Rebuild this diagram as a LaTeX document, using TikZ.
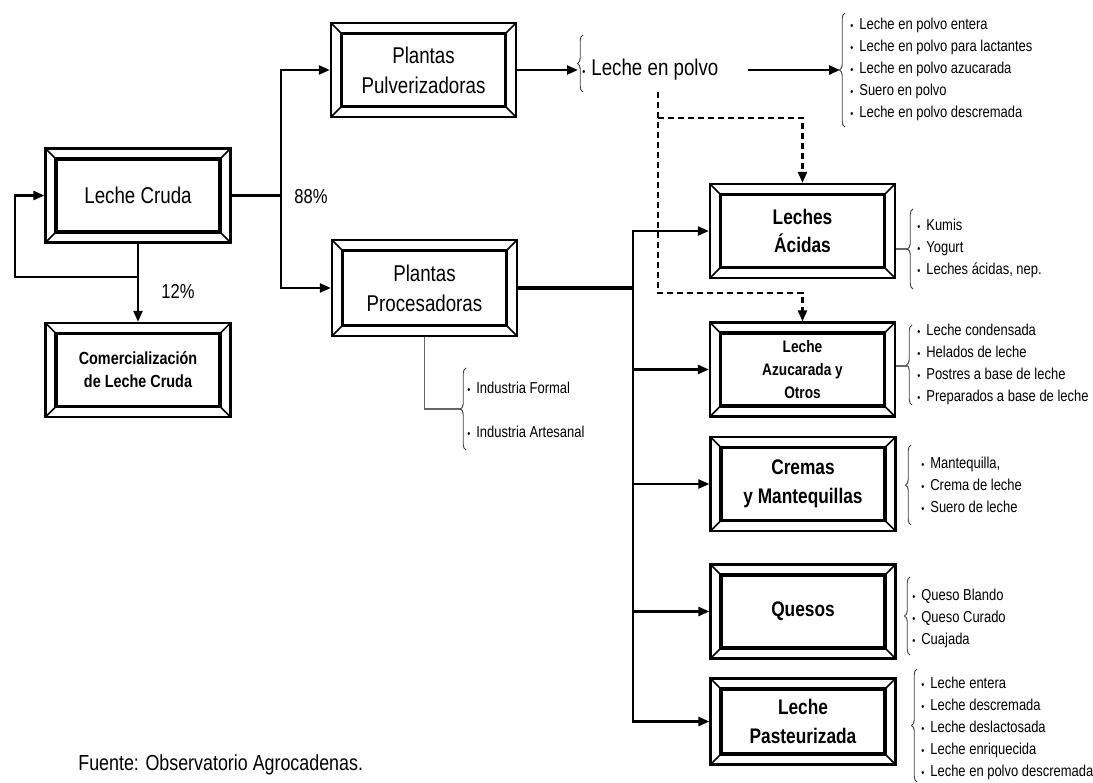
\documentclass[tikz,border=0pt]{standalone}
\usepackage{fontspec}
\setmainfont{Liberation Sans}[FakeStretch=0.82]
\usetikzlibrary{arrows.meta,positioning,decorations.pathreplacing}

\newcommand{\blt}{{\fontsize{6}{6}\selectfont\textbullet}\hspace{0.12cm}}

\begin{document}
\begin{tikzpicture}[
  x=0.02cm, y=-0.02cm,
  every node/.style={align=center},
  framebox/.style={draw, line width=1.3pt, minimum width=3.7cm, minimum height=1.88cm, inner sep=0pt,
    path picture={
      \draw[line width=1.9pt] ([shift={(0.21cm,0.21cm)}]path picture bounding box.south west) rectangle ([shift={(-0.21cm,-0.21cm)}]path picture bounding box.north east);
      \draw[line width=0.9pt] (path picture bounding box.south west) -- ++(0.21cm,0.21cm)
        (path picture bounding box.south east) -- ++(-0.21cm,0.21cm)
        (path picture bounding box.north west) -- ++(0.21cm,-0.21cm)
        (path picture bounding box.north east) -- ++(-0.21cm,-0.21cm);
    }},
  plainlabel/.style={font=\fontsize{13}{17}\selectfont},
  boldlabel/.style={font=\bfseries\fontsize{12}{16.4}\selectfont},
  smalllabel/.style={font=\bfseries\fontsize{10}{13}\selectfont},
  itemlist/.style={anchor=west, inner sep=0pt, align=left, font=\fontsize{9}{12.5}\selectfont},
  arrow/.style={-{Triangle[length=0.22cm,width=0.18cm]}, line width=1.35pt},
  conn/.style={line width=1.35pt},
  dasharrow/.style={arrow, dash pattern=on 0.12cm off 0.08cm},
  curly/.style={decorate, decoration={brace, amplitude=0.11cm}, black!75, line width=0.55pt},
  thinline/.style={black!60, line width=0.6pt}
]

\path[use as bounding box, fill=white] (0,0) rectangle (1093,783);

% --- LEFT: RAW MILK ---
\node[framebox, plainlabel] (cruda) at (138,195.5) {Leche Cruda};
\node[framebox, smalllabel] (comer) at (138,370) {Comercialización\\de Leche Cruda};

\coordinate (back) at (138,277);
\coordinate (loop) at (15,277);
\draw[arrow] (cruda.south) -- (comer.north);
\draw[arrow] (back) -- (loop) |- (cruda.west);
\node[font=\fontsize{11.5}{12}\selectfont] (pct12) at (178,292) {12\%};

% --- PLANTS ---
\node[framebox, plainlabel] (pulv) at (423.5,70) {Plantas\\Pulverizadoras};
\node[framebox, plainlabel, minimum height=1.92cm] (proc) at (424.5,288) {Plantas\\Procesadoras};

\coordinate (split) at (281,195.5);
\draw[conn] (cruda.east) -- (split);
\draw[arrow] (split) |- (pulv.west);
\draw[arrow] (split) |- (proc.west);
\node[font=\fontsize{11.5}{12}\selectfont] (pct88) at (311,197) {88\%};

% --- POWDERED MILK ---
\coordinate (ptip) at (578,70);
\draw[arrow] (pulv.east) -- (ptip);
\draw[curly] (583,92) -- (583,35);
\node[plainlabel, anchor=west, inner sep=0pt] (polvo) at (582,70) {\blt Leche en polvo};

\coordinate (ltip) at (840,70);
\draw[arrow] ([xshift=0.58cm]polvo.east) -- (ltip);
\draw[curly] (845,127) -- (845,13);
\node[itemlist] (polvolist) at (850,69.5) {\blt Leche en polvo entera\\ \blt Leche en polvo para lactantes\\ \blt Leche en polvo azucarada\\ \blt Suero en polvo\\ \blt Leche en polvo descremada};

% --- PRODUCT BOXES ---
\node[framebox, boldlabel] (acidas) at (802.5,231) {Leches\\Ácidas};
\node[framebox, font=\bfseries\fontsize{9.5}{13}\selectfont] (azuc) at (802.5,369.5) {Leche\\Azucarada y\\Otros};
\node[framebox, boldlabel] (cremas) at (803,484) {Cremas\\y Mantequillas};
\node[framebox, boldlabel] (quesos) at (803,611.5) {Quesos};
\node[framebox, boldlabel, minimum height=1.72cm] (past) at (803,721.5) {Leche\\Pasteurizada};

% Dashed links from powdered milk
\coordinate (dsrc) at (658,92);
\coordinate (dtop) at (658,118);
\coordinate (dbot) at (658,293);
\draw[dasharrow] (dsrc) -- (dbot) -| (azuc.north);
\draw[dasharrow] (dtop) -| (acidas.north);

% Trunk from processing plants
\coordinate (trunk) at (633,288);
\draw[line width=1.9pt] (proc.east) -- (trunk);
\foreach \b in {acidas,azuc,cremas,quesos,past}
  \draw[arrow] (trunk) |- (\b.west);

% --- INDUSTRY TYPES ---
\coordinate (indtip) at (461,409);
\draw[thinline] (proc.south) |- (indtip);
\draw[curly] (466,450) -- (466,368);
\node[itemlist, font=\fontsize{9}{25}\selectfont] (indlist) at (467,410) {\blt Industria Formal\\ \blt Industria Artesanal};

% --- PRODUCT LISTS ---
\coordinate (atip) at (908,249);
\draw[thinline] (acidas.east |- atip) -- (atip);
\draw[curly] (913,289) -- (913,209);
\node[itemlist] (acidlist) at (917,248) {\blt Kumis\\ \blt Yogurt\\ \blt Leches ácidas, nep.};

\coordinate (ztip) at (907,366);
\draw[thinline] (azuc.east |- ztip) -- (ztip);
\draw[curly] (912,405) -- (912,325);
\node[itemlist] (azuclist) at (917,364) {\blt Leche condensada\\ \blt Helados de leche\\ \blt Postres a base de leche\\ \blt Preparados a base de leche};

\draw[curly] (911,525) -- (911,445);
\node[itemlist] (cremlist) at (921,485) {\blt Mantequilla,\\ \blt Crema de leche\\ \blt Suero de leche};

\draw[curly] (910,655) -- (910,577);
\node[itemlist] (queslist) at (912,618) {\blt Queso Blando\\ \blt Queso Curado\\ \blt Cuajada};

\draw[curly] (917,782) -- (917,669);
\node[itemlist] (pastlist) at (921,728) {\blt Leche entera\\ \blt Leche descremada\\ \blt Leche deslactosada\\ \blt Leche enriquecida\\ \blt Leche en polvo descremada};

% --- SOURCE ---
\node[font=\fontsize{12.4}{14}\selectfont, anchor=west, inner sep=0pt] (fuente) at (78,765) {Fuente: Observatorio Agrocadenas.};

\end{tikzpicture}
\end{document}
